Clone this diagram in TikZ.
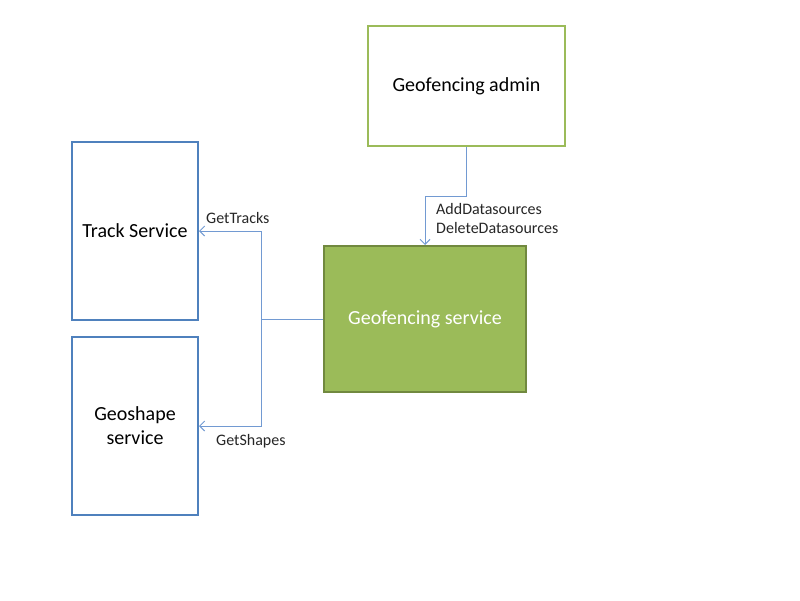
\documentclass[tikz,border=0pt]{standalone}
\usepackage{fontspec}
\setmainfont{Carlito}
\usetikzlibrary{arrows.meta}

\definecolor{boxblue}{HTML}{4F81BD}
\definecolor{boxgreen}{HTML}{9BBB59}
\definecolor{darkgreen}{HTML}{71893F}
\definecolor{linkblue}{HTML}{729AD2}
\definecolor{labelgrey}{HTML}{262626}

\tikzset{
    service/.style={draw=boxblue, line width=2pt, minimum width=126pt, minimum height=178pt, align=center, font=\fontsize{20}{24}\selectfont},
    admin/.style={draw=boxgreen, line width=2pt, minimum width=197pt, minimum height=120pt, font=\fontsize{20}{24}\selectfont},
    core/.style={draw=darkgreen, fill=boxgreen, line width=2pt, minimum width=202pt, minimum height=146pt, text=white, font=\fontsize{20}{24}\selectfont},
    link/.style={draw=linkblue, line width=1pt},
    linkarrow/.style={link, -{Straight Barb[length=5pt, width=10pt]}},
    linklabel/.style={text=labelgrey, inner sep=0pt, align=left, font=\fontsize{16}{19}\selectfont}
}

\begin{document}
\begin{tikzpicture}[x=1pt, y=-1pt]
            \useasboundingbox (0, 0) rectangle (800, 600);

            \node[admin] (admin) at (466.5, 86) {Geofencing admin};

            \node[service] (track) at (135, 231) {Track Service};

            \node[service] (shape) at (135, 426) {Geoshape\\service};

            \node[core] (geofence) at (425, 319) {Geofencing service};

            \coordinate (hub) at (261, 319);

            \draw[linkarrow] (admin.south) -- ++(0, 49) -| (geofence.north);

            \draw[link] (geofence.west) -- (hub);

            \draw[linkarrow] (hub) |- (track.east);

            \draw[linkarrow] (hub) |- (shape.east);

            \node[linklabel, anchor=west] (tracklabel) at (206, 218) {GetTracks};

            \node[linklabel, anchor=west] (shapelabel) at (216, 441) {GetShapes};

            \node[linklabel, anchor=west] (adminlabel) at (436, 218) {AddDatasources\\DeleteDatasources};
        \end{tikzpicture}
\end{document}
